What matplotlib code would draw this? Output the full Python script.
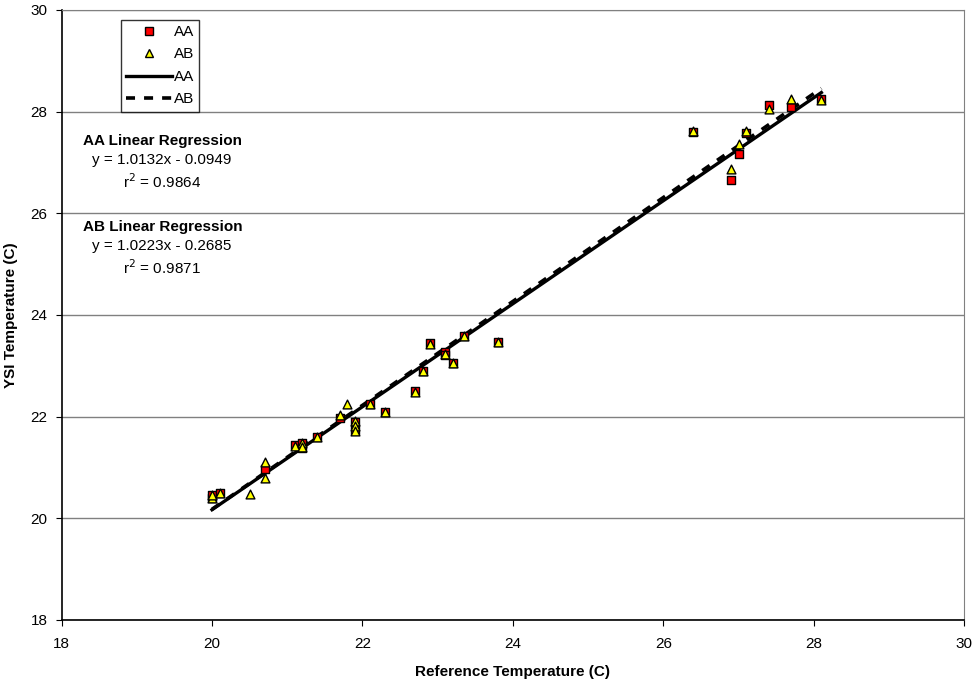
import numpy as np
import matplotlib.pyplot as plt
from matplotlib.lines import Line2D

plt.rcParams['font.family'] = ['Liberation Sans', 'DejaVu Sans']

# reference temp vs YSI temp
aa_x = [20.0, 20.0, 20.1, 20.7, 21.1, 21.2, 21.2, 21.4, 21.7, 21.9, 21.9, 22.1, 22.3,
        22.7, 22.8, 22.9, 23.1, 23.1, 23.2, 23.35, 23.8, 26.4, 26.9, 27.0, 27.1, 27.4,
        27.7, 28.1]
aa_y = [20.40, 20.45, 20.50, 20.97, 21.44, 21.48, 21.38, 21.59, 21.97, 21.90, 21.73, 22.24,
        22.09, 22.50, 22.90, 23.44, 23.27, 23.22, 23.06, 23.59, 23.47, 27.60, 26.66, 27.16,
        27.58, 28.13, 28.10, 28.24]
ab_x = [20.0, 20.0, 20.1, 20.5, 20.7, 20.7, 21.1, 21.2, 21.2, 21.4, 21.7, 21.8, 21.9,
        21.9, 21.9, 22.1, 22.3, 22.7, 22.8, 22.9, 23.1, 23.2, 23.35, 23.8, 26.4, 26.9,
        27.0, 27.1, 27.4, 27.7, 28.1]
ab_y = [20.40, 20.46, 20.50, 20.48, 21.11, 20.79, 21.43, 21.48, 21.40, 21.59, 22.04, 22.24,
        21.92, 21.82, 21.72, 22.24, 22.09, 22.49, 22.89, 23.43, 23.24, 23.05, 23.58, 23.46,
        27.61, 26.87, 27.37, 27.62, 28.06, 28.25, 28.22]

# regression coefficients as printed on the chart (slope, intercept, r2)
aa_fit = (1.0132, -0.0949, 0.9864)
ab_fit = (1.0223, -0.2685, 0.9871)
fit_range = [20.0, 28.1]

fig = plt.figure(figsize=(9.77, 6.84), dpi=100)
ax = fig.add_axes([0.063, 0.0936, 0.924, 0.8918])

ax.set_xlim(18, 30)
ax.set_ylim(18, 30)
ax.set_xticks(np.arange(18, 31, 2))
ax.set_yticks(np.arange(18, 31, 2))
ax.yaxis.grid(True, color='#808080', lw=1)
ax.set_axisbelow(True)
for side in ['top', 'right']:
    ax.spines[side].set_color('#808080')
for side in ['left', 'bottom']:
    ax.spines[side].set_color('black')
    ax.spines[side].set_linewidth(1.2)
ax.tick_params(direction='out', length=4, labelsize=11)
ax.tick_params(axis='x', pad=8)
ax.tick_params(axis='y', pad=6)

xs = np.array(fit_range)
ax.plot(xs, aa_fit[0] * xs + aa_fit[1], color='black', lw=2.4, zorder=2)
ax.plot(xs, ab_fit[0] * xs + ab_fit[1], color='black', lw=2.6, ls=(0, (2.5, 2.5)), zorder=2)
ax.scatter(aa_x, aa_y, marker='s', s=36, c='#ff0000', edgecolors='black', linewidths=1, zorder=3)
ax.scatter(ab_x, ab_y, marker='^', s=40, c='#ffff00', edgecolors='black', linewidths=1, zorder=4)

ax.set_xlabel('Reference Temperature (C)', fontsize=11, fontweight='bold', labelpad=10)
ax.set_ylabel('YSI Temperature (C)', fontsize=11, fontweight='bold', labelpad=9)

handles = [
    Line2D([], [], marker='s', ls='none', mfc='#ff0000', mec='black', ms=6),
    Line2D([], [], marker='^', ls='none', mfc='#ffff00', mec='black', ms=6),
    Line2D([], [], color='black', lw=2.4),
    Line2D([], [], color='black', lw=2.6, ls=(0, (2.5, 2.5))),
]
leg = ax.legend(handles, ['AA', 'AB', 'AA', 'AB'], loc='upper left',
                bbox_to_anchor=(0.066, 0.984), fontsize=11, frameon=True, fancybox=False,
                edgecolor='black', handlelength=3.0, handletextpad=0.1, borderpad=0.35,
                labelspacing=0.55, borderaxespad=0)
leg.get_frame().set_linewidth(1)


def fit_text(y0, name, fit):
    ax.text(18.28, y0, f'{name} Linear Regression', fontsize=11, fontweight='bold', va='center')
    ax.text(19.33, y0 - 0.39, f'y = {fit[0]:.4f}x - {abs(fit[1]):.4f}', fontsize=11,
            ha='center', va='center')
    ax.text(19.33, y0 - 0.8, f'r$^2$ = {fit[2]:.4f}', fontsize=11, ha='center', va='center')


fit_text(27.43, 'AA', aa_fit)
fit_text(25.74, 'AB', ab_fit)

fig.savefig('out.png', dpi=100)
